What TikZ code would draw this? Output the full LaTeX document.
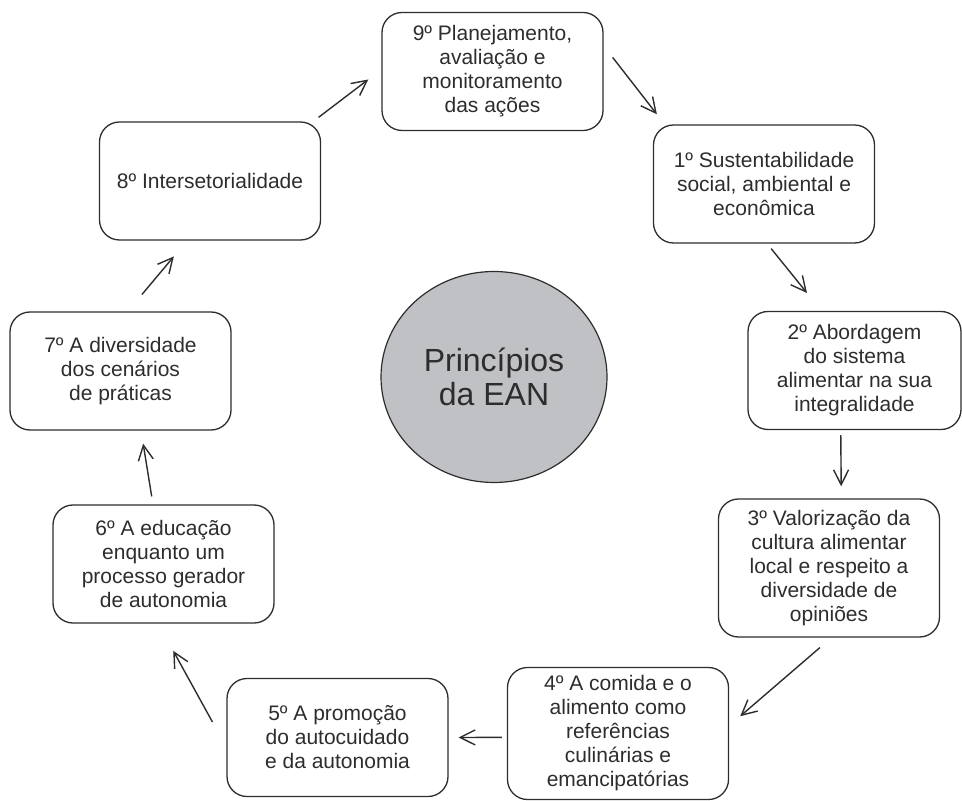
\documentclass[tikz,border=0pt]{standalone}
\usepackage{fontspec}
\setmainfont{Liberation Sans}
\usepackage{tikz}
\usetikzlibrary{arrows.meta, shapes.geometric}
\definecolor{traco}{RGB}{45,45,45}
\definecolor{eanfill}{RGB}{192,193,196}

\begin{document}
\begin{tikzpicture}[x=0.5pt, y=-0.5pt,
    principio/.style={draw=traco, line width=0.65pt, rounded corners=10pt,
      minimum width=110.5pt, minimum height=59pt, inner sep=0pt, align=center,
      text=traco, font=\fontsize{10.5}{12}\selectfont},
    seta/.style={draw=traco, line width=0.7pt,
      -{Straight Barb[length=7.5pt, width=7.5pt, line width=0.7pt]}}]
    \useasboundingbox (0,0) rectangle (962,801);

    % --- Centro: circulo cinza ---
    \node[ellipse, draw=traco, line width=0.6pt, fill=eanfill, minimum width=113pt,
      minimum height=105.5pt, align=center, text=traco,
      font=\fontsize{16}{17}\selectfont] (ean) at (494,377) {Princípios\\da EAN};

    % --- Caixas dos principios ---
    \node[principio] (p9) at (492.5,71.5) {9º Planejamento,\\avaliação e\\monitoramento\\das ações};
    \node[principio] (p1) at (764,184) {1º Sustentabilidade\\social, ambiental e\\econômica};
    \node[principio, minimum width=106.5pt] (p2) at (854.5,370.5) {2º Abordagem\\do sistema\\alimentar na sua\\integralidade};
    \node[principio, minimum height=69pt] (p3) at (829,568) {3º Valorização da\\cultura alimentar\\local e respeito a\\diversidade de\\opiniões};
    \node[principio, minimum height=66pt] (p4) at (618,733.5) {4º A comida e o\\alimento como\\referências\\culinárias e\\emancipatórias};
    \node[principio] (p5) at (337.5,737.5) {5º A promoção\\do autocuidado\\e da autonomia};
    \node[principio] (p6) at (163.5,564) {6º A educação\\enquanto um\\processo gerador\\de autonomia};
    \node[principio] (p7) at (120.5,371) {7º A diversidade\\dos cenários\\de práticas};
    \node[principio] (p8) at (210,181) {8º Intersetorialidade};

    % --- Setas (ciclo) ---
    \foreach \a/\b/\sa/\sb/\ga/\gb in {
        p8/p9/30/179/3.3/8.2,
        p9/p1/13/149/7.3/6.4,
        p1/p2/273/119/3.2/11.5,
        p2/p3/257/80/2.5/6,
        p3/p4/272/4/7.6/7.3,
        p4/p5/182/0/2.5/5,
        p5/p6/185/265/14.4/15.5,
        p6/p7/100/289/4/6.6,
        p7/p8/83/249/11/10.3} {
      \draw[seta, shorten <=\ga pt, shorten >=\gb pt] (\a.\sa) -- (\b.\sb);
    }
\end{tikzpicture}
\end{document}
